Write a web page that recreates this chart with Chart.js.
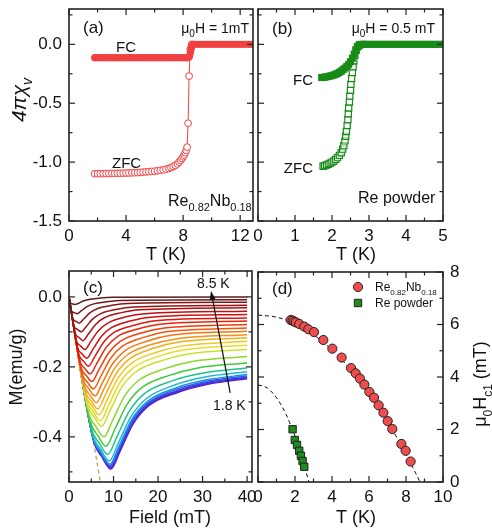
<!DOCTYPE html>
<html><head><meta charset="utf-8">
<script src="https://cdn.jsdelivr.net/npm/chart.js@4.4.1/dist/chart.umd.min.js"></script>
<style>
html,body{margin:0;padding:0;background:#fff;}
#wrap{position:relative;width:492px;height:528px;overflow:hidden;}
#wrap canvas{position:absolute;left:0;top:0;}
</style></head><body>
<div id="wrap">
<canvas id="pa" width="492" height="528"></canvas>
<canvas id="pb" width="492" height="528"></canvas>
<canvas id="pc" width="492" height="528"></canvas>
<canvas id="pd" width="492" height="528"></canvas>
</div>
<script>
// ---------- panel (a): Re0.82Nb0.18, 4πχv vs T ----------
const aFcT = [1.8,2.0,2.2,2.4,2.6,2.8,3.0,3.2,3.4,3.6,3.8,4.0,4.2,4.4,4.6,4.8,5.0,5.2,5.4,5.6,5.8,6.0,6.2,6.4,6.6,6.8,7.0,7.2,7.4,7.6,7.8,8.0,8.2,8.3,8.4,8.45,8.5,8.55,8.6,8.65,8.7,8.8,9.0,9.2,9.4,9.6,9.8,10.0,10.2,10.4,10.6,10.8,11.0,11.2,11.4,11.6,11.8,12.0,12.2,12.4,12.6,12.8,13.0];
const aFcV = [-0.113,-0.113,-0.113,-0.113,-0.113,-0.113,-0.113,-0.113,-0.113,-0.113,-0.113,-0.113,-0.113,-0.113,-0.113,-0.113,-0.113,-0.113,-0.113,-0.113,-0.113,-0.113,-0.113,-0.113,-0.113,-0.113,-0.113,-0.113,-0.113,-0.113,-0.113,-0.113,-0.113,-0.113,-0.11,-0.10,-0.075,-0.045,-0.02,-0.006,0,0,0,0,0,0,0,0,0,0,0,0,0,0,0,0,0,0,0,0,0,0,0];
const aZfcT = [1.8,2.0,2.2,2.4,2.6,2.8,3.0,3.2,3.4,3.6,3.8,4.0,4.2,4.4,4.6,4.8,5.0,5.2,5.4,5.6,5.8,6.0,6.2,6.4,6.6,6.8,7.0,7.15,7.3,7.45,7.6,7.72,7.82,7.92,8.0,8.08,8.15,8.22,8.28,8.35,8.42,8.5,8.6];
const aZfcV = [-1.098,-1.098,-1.098,-1.097,-1.097,-1.097,-1.096,-1.096,-1.095,-1.095,-1.094,-1.093,-1.092,-1.091,-1.09,-1.089,-1.087,-1.085,-1.083,-1.081,-1.079,-1.077,-1.074,-1.07,-1.066,-1.06,-1.054,-1.047,-1.038,-1.028,-1.015,-1.0,-0.985,-0.97,-0.955,-0.94,-0.92,-0.9,-0.873,-0.67,-0.27,-0.04,0];

// ---------- panel (b): Re powder ----------
const bFcT = [1.72,1.76,1.80,1.85,1.90,1.95,2.00,2.05,2.10,2.15,2.20,2.25,2.30,2.35,2.40,2.45,2.50,2.55,2.60,2.65,2.70,2.75,2.80,2.85,2.90,3.0,3.1,3.2,3.3,3.4,3.5,3.6,3.7,3.8,3.9,4.0,4.1,4.2,4.3,4.4,4.5,4.6,4.7,4.8,4.9,5.0];
const bFcV = [-0.282,-0.281,-0.279,-0.276,-0.273,-0.269,-0.265,-0.260,-0.254,-0.247,-0.238,-0.228,-0.215,-0.202,-0.188,-0.170,-0.148,-0.118,-0.082,-0.047,-0.018,-0.005,0,0,0,0,0,0,0,0,0,0,0,0,0,0,0,0,0,0,0,0,0,0,0,0];
const bZfcT = [1.76,1.80,1.85,1.90,1.95,2.00,2.05,2.10,2.15,2.20,2.25,2.29,2.32,2.35,2.37,2.39,2.41,2.43,2.44,2.45,2.47,2.48,2.50,2.51,2.53,2.55,2.57,2.59,2.62,2.65,2.69,2.74];
const bZfcV = [-1.035,-1.03,-1.025,-1.018,-1.01,-1.0,-0.99,-0.977,-0.962,-0.943,-0.92,-0.89,-0.86,-0.82,-0.78,-0.74,-0.69,-0.64,-0.59,-0.54,-0.49,-0.44,-0.39,-0.34,-0.29,-0.24,-0.19,-0.14,-0.09,-0.05,-0.02,-0.005];

// ---------- panel (c): M(H) curves, 8.5 K (top) ... 1.8 K (bottom) ----------
const cTemps = [8.5,8.25,8.0,7.75,7.5,7.25,7.0,6.75,6.5,6.25,6.0,5.75,5.5,5.25,5.0,4.75,4.5,4.0,3.5,3.0,2.5,2.25,2.1,2.0,1.9,1.8];
const cCurveH = [
 [0,0.24,0.81,1.38,2.18,3.30,4.64,7.13,9.81,40],
 [0,0.53,1.18,1.82,2.74,4.02,5.56,8.42,11.50,40],
 [0,0.83,1.56,2.28,3.31,4.74,6.46,9.66,13.10,40],
 [0,1.11,1.91,2.71,3.84,5.40,7.27,10.77,14.52,40],
 [0,1.38,2.26,3.14,4.35,6.03,8.05,11.81,15.86,40],
 [0,1.66,2.61,3.57,4.86,6.65,8.81,12.81,17.12,40],
 [0,1.94,2.97,3.99,5.36,7.25,9.52,13.76,18.31,40],
 [0,2.19,3.29,4.39,5.82,7.81,10.20,14.64,19.42,40],
 [0,2.43,3.60,4.76,6.25,8.32,10.80,15.43,20.40,40],
 [0,2.68,3.91,5.14,6.69,8.84,11.42,16.23,21.40,40],
 [0,2.91,4.21,5.50,7.11,9.33,12.00,16.98,22.33,40],
 [0,3.13,4.49,5.84,7.49,9.78,12.54,17.66,23.18,40],
 [0,3.34,4.75,6.16,7.86,10.21,13.04,18.30,23.96,40],
 [0,3.54,5.01,6.47,8.21,10.62,13.52,18.91,24.71,40],
 [0,3.73,5.25,6.76,8.54,11.00,13.97,19.48,25.42,40],
 [0,3.92,5.49,7.05,8.87,11.38,14.41,20.04,26.10,40],
 [0,4.09,5.71,7.33,9.18,11.75,14.84,20.58,26.76,40],
 [0,4.43,6.14,7.84,9.76,12.41,15.60,21.54,27.93,40],
 [0,4.73,6.51,8.30,10.27,13.00,16.28,22.39,28.96,40],
 [0,4.98,6.84,8.70,10.72,13.51,16.88,23.13,29.86,40],
 [0,5.19,7.11,9.02,11.08,13.92,17.34,23.71,30.56,40],
 [0,5.29,7.23,9.17,11.24,14.11,17.56,23.98,30.88,40],
 [0,5.33,7.29,9.24,11.32,14.20,17.66,24.11,31.04,40],
 [0,5.38,7.35,9.31,11.40,14.29,17.77,24.24,31.20,40],
 [0,5.41,7.39,9.36,11.45,14.35,17.83,24.32,31.29,40],
 [0,5.45,7.43,9.41,11.51,14.41,17.91,24.41,31.41,40]
];
const cCurveM = [
 [0,-0.018,-0.020,-0.022,-0.018,-0.011,-0.007,-0.003,-0.001,0],
 [0,-0.040,-0.045,-0.048,-0.040,-0.028,-0.020,-0.014,-0.010,-0.008],
 [0,-0.062,-0.070,-0.075,-0.063,-0.045,-0.033,-0.024,-0.019,-0.015],
 [0,-0.083,-0.093,-0.100,-0.085,-0.062,-0.047,-0.035,-0.029,-0.024],
 [0,-0.104,-0.116,-0.125,-0.106,-0.078,-0.059,-0.045,-0.037,-0.031],
 [0,-0.125,-0.140,-0.150,-0.128,-0.096,-0.074,-0.057,-0.048,-0.041],
 [0,-0.145,-0.163,-0.175,-0.150,-0.113,-0.088,-0.069,-0.058,-0.050],
 [0,-0.164,-0.184,-0.198,-0.170,-0.129,-0.101,-0.081,-0.068,-0.060],
 [0,-0.183,-0.205,-0.220,-0.190,-0.145,-0.114,-0.092,-0.078,-0.069],
 [0,-0.201,-0.225,-0.242,-0.209,-0.161,-0.128,-0.103,-0.089,-0.079],
 [0,-0.218,-0.245,-0.263,-0.228,-0.176,-0.141,-0.115,-0.099,-0.089],
 [0,-0.235,-0.263,-0.283,-0.246,-0.191,-0.154,-0.126,-0.109,-0.098],
 [0,-0.251,-0.281,-0.302,-0.263,-0.205,-0.166,-0.137,-0.120,-0.108],
 [0,-0.266,-0.298,-0.320,-0.279,-0.219,-0.178,-0.147,-0.129,-0.117],
 [0,-0.280,-0.313,-0.337,-0.295,-0.232,-0.190,-0.159,-0.140,-0.127],
 [0,-0.294,-0.329,-0.354,-0.311,-0.246,-0.203,-0.170,-0.151,-0.138],
 [0,-0.307,-0.344,-0.370,-0.326,-0.260,-0.216,-0.183,-0.163,-0.150],
 [0,-0.332,-0.372,-0.400,-0.354,-0.285,-0.239,-0.205,-0.184,-0.170],
 [0,-0.354,-0.397,-0.427,-0.379,-0.308,-0.260,-0.225,-0.203,-0.189],
 [0,-0.374,-0.419,-0.450,-0.401,-0.327,-0.277,-0.240,-0.218,-0.203],
 [0,-0.389,-0.436,-0.469,-0.418,-0.342,-0.291,-0.252,-0.229,-0.214],
 [0,-0.397,-0.445,-0.478,-0.427,-0.350,-0.299,-0.260,-0.237,-0.222],
 [0,-0.400,-0.448,-0.482,-0.431,-0.354,-0.303,-0.264,-0.241,-0.226],
 [0,-0.403,-0.452,-0.486,-0.435,-0.358,-0.306,-0.268,-0.244,-0.229],
 [0,-0.406,-0.455,-0.489,-0.438,-0.361,-0.309,-0.271,-0.247,-0.232],
 [0,-0.408,-0.458,-0.492,-0.440,-0.363,-0.311,-0.273,-0.249,-0.234]
];
const cMeissnerH = [0, 7.3];
const cMeissnerM = [0, -0.548];

// ---------- panel (d): Hc1(T) ----------
const dNbT = [1.77,1.87,1.96,2.05,2.23,2.5,2.72,3.03,3.53,4.02,4.52,5.03,5.28,5.51,5.75,6.02,6.27,6.52,6.78,7.01,7.26,7.75,7.98,8.25];
const dNbH = [6.17,6.15,6.11,6.08,6.02,5.92,5.82,5.71,5.41,5.08,4.74,4.34,4.14,3.94,3.71,3.43,3.21,2.92,2.64,2.32,2.02,1.45,1.19,0.78];
const dReT = [1.87,1.99,2.11,2.23,2.32,2.41,2.5];
const dReH = [2.01,1.60,1.41,1.19,1.00,0.80,0.58];
const dNbFitT = [0,1,2,3,4,5,6,7,7.5,8,8.4,8.76];
const dNbFitH = [6.36,6.28,6.03,5.61,5.03,4.29,3.38,2.30,1.70,1.06,0.51,0];
const dReFitT = [0,0.5,1,1.5,2,2.3,2.5,2.75];
const dReFitH = [3.70,3.58,3.21,2.60,1.74,1.11,0.64,0];

// ---------- ticks ----------
const aXTicks = [0,4,8,12], aXMinor = [2,6,10];
const abYTicks = [0,-0.5,-1,-1.5], abYMinor = [0.25,-0.25,-0.75,-1.25];
const bXTicks = [0,1,2,3,4,5], bXMinor = [0.5,1.5,2.5,3.5,4.5];
const cXTicks = [0,10,20,30,40], cXMinor = [5,15,25,35];
const cYTicks = [0,-0.2,-0.4], cYMinor = [-0.1,-0.3,-0.5];
const dXTicks = [0,2,4,6,8,10], dXMinor = [1,3,5,7,9];
const dYTicks = [0,2,4,6,8], dYMinor = [1,3,5,7];

// ---------- styling ----------
const FONT = '"Liberation Sans", Arial, Helvetica, sans-serif';
const W = 492, H = 528;
const RED = '#f04040', GREEN = '#178a17';
const cColors = ['#5a1f1f','#6e1a1a','#841616','#991313','#ad1010','#c10e0e','#d20f0f','#e01510','#ea250c','#f03d0c','#f2590e','#f47512','#f59218','#f5ae1e','#f0c824','#e6dc28','#c8e22c','#8ad82c','#3ccc34','#1ec48a','#1cb8d8','#1c8ee8','#2a62e6','#3c3ce0','#5028d4','#6418c4'];
Chart.defaults.font.family = FONT;

const pts = (xs, ys) => xs.map((x, i) => ({x: x, y: ys[i]}));

function drawRich(ctx, it) {
  const size = it.size, sub = Math.round(size * 0.68);
  const fnt = s => (it.italic ? 'italic ' : '') + s + 'px ' + FONT;
  let w = 0;
  for (const r of it.runs) { ctx.font = fnt(r[1] ? sub : size); w += ctx.measureText(r[0]).width; }
  ctx.save();
  ctx.translate(it.x, it.y);
  if (it.rot) ctx.rotate(it.rot * Math.PI / 180);
  let x0 = it.align === 'right' ? -w : (it.align === 'center' ? -w / 2 : 0);
  ctx.textBaseline = 'alphabetic';
  ctx.fillStyle = '#111';
  for (const r of it.runs) {
    ctx.font = fnt(r[1] ? sub : size);
    ctx.fillText(r[0], x0, size * 0.36 + (r[1] ? size * 0.3 : 0));
    x0 += ctx.measureText(r[0]).width;
  }
  ctx.restore();
}

function framePlugin(spec) {
  return {
    id: 'frame',
    afterDraw(chart) {
      const ctx = chart.ctx, a = chart.chartArea, xs = chart.scales.x, ys = chart.scales.y;
      ctx.save();
      ctx.strokeStyle = '#222';
      ctx.lineWidth = 1.2;
      const seg = (x1, y1, x2, y2) => { ctx.beginPath(); ctx.moveTo(x1, y1); ctx.lineTo(x2, y2); ctx.stroke(); };
      [[spec.xMajor, 6], [spec.xMinor, 3.5]].forEach(([vals, len]) => vals.forEach(v => {
        const p = xs.getPixelForValue(v);
        seg(p, a.bottom, p, a.bottom - len); seg(p, a.top, p, a.top + len);
      }));
      [[spec.yMajor, 6], [spec.yMinor, 3.5]].forEach(([vals, len]) => vals.forEach(v => {
        const p = ys.getPixelForValue(v);
        if (p < a.top - 0.5 || p > a.bottom + 0.5) return;
        seg(a.left, p, a.left + len, p); seg(a.right, p, a.right - len, p);
      }));
      ctx.lineWidth = 1.6;
      ctx.strokeRect(a.left, a.top, a.right - a.left, a.bottom - a.top);
      if (spec.arrow) {
        const x1 = xs.getPixelForValue(spec.arrow[0]), y1 = ys.getPixelForValue(spec.arrow[1]);
        const x2 = xs.getPixelForValue(spec.arrow[2]), y2 = ys.getPixelForValue(spec.arrow[3]);
        const ang = Math.atan2(y2 - y1, x2 - x1);
        ctx.lineWidth = 1.2; ctx.strokeStyle = '#111'; ctx.fillStyle = '#111';
        seg(x1, y1, x2 - 6 * Math.cos(ang), y2 - 6 * Math.sin(ang));
        ctx.beginPath();
        ctx.moveTo(x2, y2);
        ctx.lineTo(x2 - 9 * Math.cos(ang) + 3 * Math.sin(ang), y2 - 9 * Math.sin(ang) - 3 * Math.cos(ang));
        ctx.lineTo(x2 - 9 * Math.cos(ang) - 3 * Math.sin(ang), y2 - 9 * Math.sin(ang) + 3 * Math.cos(ang));
        ctx.closePath(); ctx.fill();
      }
      if (spec.legend) {
        spec.legend.forEach(l => {
          ctx.lineWidth = 1; ctx.strokeStyle = '#222'; ctx.fillStyle = l.color;
          ctx.beginPath();
          if (l.shape === 'circle') ctx.arc(l.x, l.y, 4.6, 0, Math.PI * 2);
          else ctx.rect(l.x - 3.7, l.y - 3.7, 7.4, 7.4);
          ctx.fill(); ctx.stroke();
        });
      }
      (spec.texts || []).forEach(t => drawRich(ctx, t));
      ctx.restore();
    }
  };
}

function axis(o, size, horizontal) {
  return {
    type: 'linear', position: o.position, min: o.min, max: o.max,
    afterFit(s) {
      if (horizontal) s.height = size; else s.width = size;
      s.paddingTop = 0; s.paddingBottom = 0; s.paddingLeft = 0; s.paddingRight = 0;
    },
    afterBuildTicks(s) { s.ticks = o.ticks.map(v => ({value: v})); },
    grid: {display: false, drawTicks: false},
    border: {display: false},
    ticks: {display: o.labels, padding: o.pad, autoSkip: false, maxRotation: 0, minRotation: 0, color: '#111',
      font: {family: FONT, size: 17}, callback: o.fmt}
  };
}

function panel(id, area, xo, yo, datasets, spec) {
  const left = yo.position === 'left';
  const ySize = left ? area[0] : W - area[2];
  const xSize = H - area[3];
  return new Chart(document.getElementById(id), {
    type: 'line',
    data: {datasets: datasets},
    options: {
      responsive: false, animation: false, events: [],
      layout: {padding: {left: left ? 0 : area[0], top: area[1], right: left ? W - area[2] : 0, bottom: 0}},
      plugins: {legend: {display: false}, tooltip: {enabled: false}},
      scales: {x: axis(xo, xSize, true), y: axis(yo, ySize, false)}
    },
    plugins: [framePlugin(spec)]
  });
}

const fmt0 = v => String(v);
const fmt1 = v => v.toFixed(1);

// (a)
panel('pa', [69, 9, 253, 221],
  {position: 'bottom', min: 0, max: 12.9, ticks: aXTicks, labels: true, pad: 5, fmt: fmt0},
  {position: 'left', min: -1.5, max: 0.3, ticks: abYTicks, labels: true, pad: 7, fmt: fmt1},
  [
    {data: pts(aFcT, aFcV), showLine: false, pointStyle: 'circle', pointRadius: 3.6, pointBackgroundColor: RED, pointBorderWidth: 0},
    {data: pts(aZfcT, aZfcV), showLine: true, borderColor: RED, borderWidth: 1, tension: 0, pointStyle: 'circle', pointRadius: 3.4, pointBackgroundColor: '#fff', pointBorderColor: RED, pointBorderWidth: 1}
  ],
  {xMajor: aXTicks, xMinor: aXMinor, yMajor: abYTicks, yMinor: abYMinor, texts: [
    {x: 83, y: 27, size: 17, runs: [['(a)', 0]]},
    {x: 249, y: 28, size: 14, align: 'right', runs: [['μ', 0], ['0', 1], ['H = 1mT', 0]]},
    {x: 116, y: 47, size: 15, runs: [['FC', 0]]},
    {x: 112, y: 163, size: 15, runs: [['ZFC', 0]]},
    {x: 168, y: 200, size: 16, runs: [['Re', 0], ['0.82', 1], ['Nb', 0], ['0.18', 1]]},
    {x: 18, y: 100, size: 21, rot: -90, align: 'center', italic: true, runs: [['4πχ', 0], ['v', 1]]},
    {x: 166, y: 254, size: 18, align: 'center', runs: [['T (K)', 0]]}
  ]});

// (b)
panel('pb', [258, 9, 443, 221],
  {position: 'bottom', min: 0, max: 5, ticks: bXTicks, labels: true, pad: 5, fmt: fmt0},
  {position: 'left', min: -1.5, max: 0.3, ticks: abYTicks, labels: false, pad: 7, fmt: fmt1},
  [
    {data: pts(bFcT, bFcV), showLine: false, pointStyle: 'rect', pointRadius: 5, pointBackgroundColor: GREEN, pointBorderWidth: 0},
    {data: pts(bZfcT, bZfcV), showLine: false, pointStyle: 'rect', pointRadius: 4.4, pointBackgroundColor: 'rgba(255,255,255,0.6)', pointBorderColor: GREEN, pointBorderWidth: 1.2}
  ],
  {xMajor: bXTicks, xMinor: bXMinor, yMajor: abYTicks, yMinor: abYMinor, texts: [
    {x: 272, y: 28, size: 17, runs: [['(b)', 0]]},
    {x: 435, y: 28, size: 14, align: 'right', runs: [['μ', 0], ['0', 1], ['H = 0.5 mT', 0]]},
    {x: 313, y: 80, size: 15, align: 'right', runs: [['FC', 0]]},
    {x: 313, y: 168, size: 15, align: 'right', runs: [['ZFC', 0]]},
    {x: 358, y: 197, size: 16, runs: [['Re powder', 0]]},
    {x: 356, y: 254, size: 18, align: 'center', runs: [['T (K)', 0]]}
  ]});

// (c)
const cSets = cCurveH.map((hs, i) => ({
  label: cTemps[i] + ' K', data: pts(hs, cCurveM[i]), showLine: true, borderColor: cColors[i], borderWidth: 1.5,
  pointRadius: 0, cubicInterpolationMode: 'monotone'
}));
cSets.push({data: pts(cMeissnerH, cMeissnerM), showLine: true, borderColor: '#c4a452', borderWidth: 1.3, borderDash: [4, 3], pointRadius: 0, tension: 0});
panel('pc', [69, 271, 252, 482],
  {position: 'bottom', min: 0, max: 41.1, ticks: cXTicks, labels: true, pad: 5, fmt: fmt0},
  {position: 'left', min: -0.529, max: 0.074, ticks: cYTicks, labels: true, pad: 7, fmt: fmt1},
  cSets,
  {xMajor: cXTicks, xMinor: cXMinor, yMajor: cYTicks, yMinor: cYMinor, arrow: [36.2, -0.274, 31.9, 0.017], texts: [
    {x: 83, y: 287, size: 17, runs: [['(c)', 0]]},
    {x: 197, y: 283, size: 14, runs: [['8.5 K', 0]]},
    {x: 213, y: 405, size: 14, runs: [['1.8 K', 0]]},
    {x: 16, y: 367, size: 18, rot: -90, align: 'center', runs: [['M(emu/g)', 0]]},
    {x: 170, y: 517, size: 18, align: 'center', runs: [['Field (mT)', 0]]}
  ]});

// (d)
panel('pd', [258, 272, 443, 482],
  {position: 'bottom', min: 0, max: 10, ticks: dXTicks, labels: true, pad: 5, fmt: fmt0},
  {position: 'right', min: 0, max: 8, ticks: dYTicks, labels: true, pad: 7, fmt: fmt0},
  [
    {data: pts(dNbT, dNbH), showLine: false, pointStyle: 'circle', pointRadius: 4.6, pointBackgroundColor: '#ef4d4d', pointBorderColor: '#222', pointBorderWidth: 1},
    {data: pts(dReT, dReH), showLine: false, pointStyle: 'rect', pointRadius: 5.2, pointBackgroundColor: '#1f8a1f', pointBorderColor: '#222', pointBorderWidth: 1},
    {data: pts(dNbFitT, dNbFitH), showLine: true, borderColor: '#111', borderWidth: 1, borderDash: [4, 3], pointRadius: 0, cubicInterpolationMode: 'monotone'},
    {data: pts(dReFitT, dReFitH), showLine: true, borderColor: '#111', borderWidth: 1, borderDash: [4, 3], pointRadius: 0, cubicInterpolationMode: 'monotone'}
  ],
  {xMajor: dXTicks, xMinor: dXMinor, yMajor: dYTicks, yMinor: dYMinor,
   legend: [{x: 358, y: 287, shape: 'circle', color: '#ef4d4d'}, {x: 358, y: 303, shape: 'rect', color: '#1f8a1f'}],
   texts: [
    {x: 272, y: 288, size: 17, runs: [['(d)', 0]]},
    {x: 375, y: 287, size: 12, runs: [['Re', 0], ['0.82', 1], ['Nb', 0], ['0.18', 1]]},
    {x: 375, y: 303, size: 12, runs: [['Re powder', 0]]},
    {x: 356, y: 517, size: 18, align: 'center', runs: [['T (K)', 0]]},
    {x: 480, y: 384, size: 18, rot: -90, align: 'center', runs: [['μ', 0], ['0', 1], ['H', 0], ['c1', 1], [' (mT)', 0]]}
  ]});
</script>
</body></html>
